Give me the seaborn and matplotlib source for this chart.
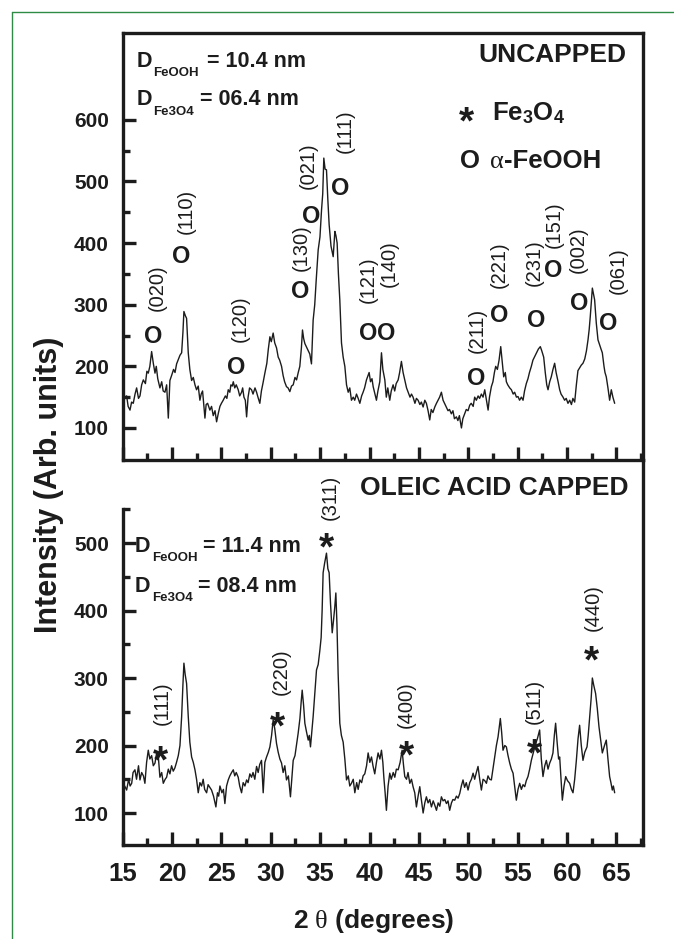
import matplotlib
matplotlib.use("Agg")
import matplotlib.pyplot as plt
from matplotlib.ticker import FixedLocator
from matplotlib.lines import Line2D
import pandas as pd
import seaborn as sns

# ---------------- data ----------------
# Uncapped sample (upper panel)
top_two_theta = [
    15.2, 15.4, 15.55, 15.74, 15.9, 16.07, 16.25, 16.41, 16.6, 16.75,
    16.92, 17.09, 17.3, 17.45, 17.59, 17.75, 17.93, 18.1, 18.27, 18.4,
    18.55, 18.77, 18.95, 19.1, 19.28, 19.45, 19.62, 19.78, 19.95, 20.15,
    20.3, 20.46, 20.65, 20.8, 20.97, 21.1, 21.2, 21.35, 21.47, 21.64,
    21.8, 21.98, 22.15, 22.32, 22.48, 22.65, 22.82, 22.95, 23.09, 23.2,
    23.33, 23.45, 23.6, 23.83, 24.0, 24.17, 24.35, 24.51, 24.7, 24.85,
    25.0, 25.18, 25.4, 25.55, 25.69, 25.85, 25.96, 26.1, 26.2, 26.35,
    26.5, 26.7, 26.85, 27.04, 27.15, 27.28, 27.42, 27.55, 27.7, 27.85,
    28.05, 28.2, 28.4, 28.56, 28.7, 28.89, 29.05, 29.2, 29.4, 29.6,
    29.75, 29.91, 30.05, 30.24, 30.4, 30.58, 30.75, 30.9, 31.09, 31.25,
    31.4, 31.59, 31.75, 31.93, 32.1, 32.27, 32.45, 32.61, 32.78, 32.94,
    33.1, 33.21, 33.33, 33.45, 33.6, 33.79, 33.95, 34.12, 34.29, 34.45,
    34.6, 34.8, 34.98, 35.14, 35.26, 35.37, 35.5, 35.64, 35.78, 35.91,
    36.1, 36.32, 36.49, 36.6, 36.72, 36.85, 36.99, 37.16, 37.33, 37.5,
    37.67, 37.84, 38.0, 38.17, 38.35, 38.5, 38.68, 38.85, 39.02, 39.2,
    39.35, 39.5, 39.69, 39.85, 39.96, 40.1, 40.25, 40.37, 40.55, 40.7,
    40.85, 41.04, 41.21, 41.35, 41.55, 41.7, 41.85, 42.05, 42.2, 42.39,
    42.55, 42.7, 42.9, 43.05, 43.23, 43.4, 43.57, 43.75, 43.91, 44.1,
    44.25, 44.41, 44.6, 44.75, 44.92, 45.1, 45.25, 45.43, 45.6, 45.76,
    45.93, 46.1, 46.25, 46.42, 46.61, 46.78, 46.94, 47.1, 47.28, 47.45,
    47.6, 47.79, 47.95, 48.1, 48.29, 48.45, 48.6, 48.8, 48.95, 49.1,
    49.31, 49.45, 49.64, 49.8, 49.98, 50.15, 50.3, 50.5, 50.65, 50.82,
    51.0, 51.15, 51.33, 51.5, 51.67, 51.85, 52.01, 52.15, 52.34, 52.5,
    52.65, 52.78, 52.95, 53.12, 53.29, 53.45, 53.59, 53.75, 53.86, 54.0,
    54.2, 54.37, 54.55, 54.7, 54.88, 55.04, 55.2, 55.38, 55.55, 55.7,
    55.88, 56.05, 56.2, 56.39, 56.55, 56.7, 56.9, 57.1, 57.3, 57.45,
    57.64, 57.8, 57.95, 58.08, 58.25, 58.41, 58.58, 58.75, 58.9, 59.1,
    59.26, 59.4, 59.6, 59.76, 59.92, 60.1, 60.28, 60.45, 60.6, 60.78,
    60.95, 61.11, 61.3, 61.45, 61.62, 61.8, 61.97, 62.13, 62.25, 62.36,
    62.47, 62.57, 62.68, 62.8, 62.97, 63.14, 63.3, 63.45, 63.58, 63.75,
    63.85, 63.98, 64.15, 64.32, 64.49, 64.65, 64.83,
]
top_intensity = [
    150, 152, 135, 129, 142, 140, 155, 165, 148, 152,
    170, 178, 172, 192, 189, 200, 224, 205, 189, 200,
    180, 165, 175, 160, 158, 170, 116, 177, 185, 195,
    190, 204, 212, 218, 222, 255, 289, 282, 278, 222,
    195, 177, 182, 170, 162, 168, 145, 155, 160, 140,
    116, 138, 140, 129, 135, 120, 128, 110, 125, 135,
    140, 145, 152, 148, 162, 158, 170, 168, 175, 165,
    170, 162, 152, 158, 165, 150, 145, 118, 150, 165,
    162, 155, 165, 158, 150, 140, 160, 172, 189, 205,
    228, 248, 240, 254, 238, 230, 215, 210, 200, 185,
    175, 167, 165, 159, 168, 170, 182, 178, 190, 200,
    230, 259, 245, 237, 232, 226, 220, 204, 275, 300,
    340, 389, 410, 454, 480, 538, 520, 519, 470, 430,
    395, 378, 419, 412, 400, 350, 308, 238, 215, 200,
    170, 158, 165, 145, 150, 145, 155, 148, 140, 152,
    158, 165, 178, 185, 190, 175, 180, 167, 155, 145,
    160, 175, 222, 195, 178, 150, 165, 145, 160, 170,
    160, 172, 178, 190, 208, 190, 178, 165, 158, 150,
    155, 150, 140, 148, 145, 138, 142, 134, 145, 140,
    128, 113, 130, 125, 134, 140, 145, 150, 158, 145,
    140, 134, 128, 130, 123, 128, 115, 118, 112, 120,
    100, 115, 123, 130, 128, 137, 140, 135, 150, 145,
    152, 148, 155, 150, 162, 145, 129, 150, 167, 175,
    190, 200, 195, 210, 232, 205, 183, 190, 175, 170,
    165, 162, 155, 158, 150, 151, 145, 150, 145, 160,
    172, 180, 190, 200, 210, 215, 222, 228, 232, 225,
    215, 190, 170, 162, 175, 183, 195, 205, 190, 175,
    162, 155, 150, 145, 148, 140, 145, 138, 148, 142,
    170, 193, 198, 202, 205, 212, 225, 243, 260, 281,
    305, 327, 318, 308, 270, 243, 235, 228, 222, 200,
    190, 183, 165, 145, 162, 150, 140,
]

# Oleic acid capped sample (lower panel)
bot_two_theta = [
    15.2, 15.4, 15.6, 15.75, 15.91, 16.05, 16.24, 16.4, 16.6, 16.75,
    16.92, 17.1, 17.25, 17.42, 17.59, 17.75, 17.93, 18.1, 18.27, 18.45,
    18.6, 18.77, 18.95, 19.11, 19.3, 19.45, 19.62, 19.78, 19.95, 20.12,
    20.29, 20.45, 20.63, 20.8, 20.97, 21.1, 21.2, 21.33, 21.47, 21.64,
    21.8, 21.98, 22.15, 22.32, 22.48, 22.65, 22.82, 22.99, 23.15, 23.3,
    23.5, 23.65, 23.82, 24.0, 24.2, 24.44, 24.6, 24.72, 24.85, 25.05,
    25.2, 25.35, 25.52, 25.69, 25.85, 26.03, 26.2, 26.35, 26.5, 26.7,
    26.85, 27.04, 27.2, 27.38, 27.55, 27.7, 27.88, 28.05, 28.2, 28.38,
    28.56, 28.72, 28.88, 29.06, 29.23, 29.4, 29.57, 29.75, 29.91, 30.08,
    30.24, 30.4, 30.58, 30.75, 30.92, 31.09, 31.25, 31.42, 31.59, 31.78,
    31.99, 32.12, 32.27, 32.45, 32.6, 32.77, 32.95, 33.08, 33.18, 33.32,
    33.45, 33.62, 33.79, 33.9, 34.02, 34.15, 34.29, 34.45, 34.63, 34.8,
    34.97, 35.1, 35.2, 35.3, 35.45, 35.64, 35.78, 35.91, 36.05, 36.22,
    36.35, 36.48, 36.59, 36.7, 36.82, 36.99, 37.15, 37.33, 37.5, 37.67,
    37.85, 38.0, 38.17, 38.35, 38.51, 38.7, 38.85, 39.02, 39.2, 39.35,
    39.52, 39.7, 39.86, 40.03, 40.2, 40.35, 40.53, 40.7, 40.87, 41.05,
    41.21, 41.35, 41.45, 41.58, 41.71, 41.88, 42.05, 42.2, 42.4, 42.56,
    42.72, 42.9, 43.1, 43.3, 43.45, 43.57, 43.75, 43.9, 44.08, 44.25,
    44.41, 44.58, 44.75, 44.92, 45.09, 45.25, 45.43, 45.6, 45.76, 45.93,
    46.1, 46.27, 46.45, 46.6, 46.78, 46.95, 47.12, 47.28, 47.45, 47.62,
    47.79, 47.95, 48.12, 48.3, 48.45, 48.63, 48.8, 48.97, 49.14, 49.3,
    49.47, 49.63, 49.8, 49.98, 50.15, 50.32, 50.49, 50.65, 50.82, 50.99,
    51.16, 51.33, 51.5, 51.67, 51.84, 52.0, 52.17, 52.34, 52.5, 52.68,
    52.85, 53.02, 53.15, 53.25, 53.38, 53.52, 53.7, 53.86, 54.03, 54.2,
    54.37, 54.54, 54.7, 54.87, 55.04, 55.21, 55.38, 55.55, 55.72, 55.88,
    56.05, 56.22, 56.39, 56.6, 56.83, 57.0, 57.23, 57.4, 57.57, 57.75,
    57.91, 58.08, 58.25, 58.42, 58.58, 58.72, 58.85, 59.0, 59.15, 59.26,
    59.4, 59.53, 59.7, 59.87, 60.05, 60.27, 60.45, 60.61, 60.78, 60.95,
    61.12, 61.28, 61.45, 61.62, 61.8, 62.03, 62.15, 62.3, 62.45, 62.57,
    62.7, 62.9, 63.07, 63.24, 63.4, 63.58, 63.8, 63.98, 64.15, 64.32,
    64.45, 64.59, 64.7, 64.83,
]
bot_intensity = [
    140, 134, 150, 140, 144, 160, 164, 150, 170, 149,
    160, 155, 144, 175, 193, 180, 185, 170, 174, 190,
    185, 153, 160, 144, 150, 153, 165, 158, 170, 162,
    167, 175, 185, 200, 243, 290, 322, 305, 292, 243,
    205, 183, 175, 164, 150, 130, 145, 140, 150, 135,
    130, 142, 138, 134, 125, 109, 130, 125, 140, 130,
    135, 114, 140, 149, 155, 160, 164, 155, 160, 153,
    140, 130, 145, 140, 149, 145, 158, 153, 160, 150,
    169, 160, 172, 178, 130, 175, 183, 190, 198, 215,
    238, 225, 203, 190, 180, 174, 160, 170, 149, 155,
    124, 150, 178, 185, 200, 218, 240, 265, 282, 260,
    233, 220, 208, 215, 198, 220, 243, 275, 312, 320,
    341, 360, 400, 456, 470, 485, 462, 456, 410, 367,
    385, 405, 426, 380, 307, 233, 215, 205, 180, 149,
    155, 140, 144, 150, 130, 145, 135, 149, 145, 155,
    158, 170, 189, 175, 183, 170, 158, 175, 189, 180,
    193, 175, 153, 130, 104, 140, 159, 150, 160, 153,
    165, 164, 175, 193, 170, 154, 150, 160, 144, 150,
    139, 130, 109, 125, 139, 120, 100, 115, 124, 115,
    120, 109, 118, 112, 104, 115, 110, 124, 118, 120,
    114, 118, 104, 115, 120, 119, 125, 122, 129, 140,
    149, 138, 145, 134, 145, 150, 159, 150, 160, 169,
    150, 134, 150, 148, 144, 155, 150, 149, 165, 183,
    200, 213, 228, 240, 220, 193, 200, 198, 185, 174,
    165, 159, 140, 119, 135, 144, 135, 142, 139, 148,
    154, 165, 178, 190, 203, 210, 223, 180, 154, 170,
    178, 165, 174, 180, 189, 215, 233, 205, 180, 183,
    150, 119, 140, 154, 148, 144, 135, 130, 150, 178,
    210, 230, 200, 178, 190, 198, 215, 243, 270, 300,
    290, 277, 255, 228, 210, 189, 200, 208, 180, 154,
    145, 134, 140, 130,
]

# Peak annotations, alpha-FeOOH (upper panel)
top_hkl = ["(020)", "(110)", "(120)", "(130)", "(021)", "(111)", "(121)",
           "(140)", "(211)", "(221)", "(231)", "(151)", "(002)", "(061)"]
top_mark_x = [18.10, 20.97, 26.54, 32.95, 34.13, 37.0, 39.86,
              41.72, 50.83, 53.12, 56.9, 58.58, 61.28, 64.15]
top_mark_y = [251, 381, 202, 324, 446, 492, 256,
              256, 183, 286, 278, 359, 305, 273]
top_label_x = [18.5, 21.41, 26.87, 33.05, 33.79, 37.5, 39.86,
               41.98, 50.93, 53.09, 56.66, 58.75, 61.18, 65.16]
top_label_y = [327, 452, 277, 393, 526, 581, 340,
               367, 258, 365, 369, 430, 389, 356]

# Peak annotations, Fe3O4 (lower panel)
bot_hkl = ["(111)", "(220)", "(311)", "(400)", "(511)", "(440)"]
bot_mark_x = [18.78, 30.65, 35.65, 43.74, 56.73, 62.47]
bot_mark_y = [193, 243, 509, 201, 203, 341]
bot_label_x = [19.0, 31.09, 35.98, 43.74, 56.73, 62.63]
bot_label_y = [262, 309, 568, 261, 265, 405]

x_ticks = [15, 20, 25, 30, 35, 40, 45, 50, 55, 60, 65]
top_y_ticks = [100, 200, 300, 400, 500, 600]
bot_y_ticks = [100, 200, 300, 400, 500]

# ---------------- style ----------------
sns.set_style("ticks")
plt.rcParams["font.family"] = ["Liberation Sans", "DejaVu Sans"]
plt.rcParams["font.weight"] = "bold"
plt.rcParams["mathtext.fontset"] = "custom"
plt.rcParams["mathtext.rm"] = "Liberation Sans:bold"
plt.rcParams["mathtext.bf"] = "Liberation Sans:bold"
plt.rcParams["mathtext.it"] = "Liberation Serif:weight=normal"
plt.rcParams["axes.linewidth"] = 2.4
INK = "#1c1c1c"
SERIF = ["Liberation Serif", "DejaVu Serif"]

W, H = 674, 939
fig = plt.figure(figsize=(W / 100, H / 100), dpi=100)
L, R = 122.7, 643.0
ax1 = fig.add_axes([L / W, 1 - 460 / H, (R - L) / W, (460 - 33) / H])
ax2 = fig.add_axes([L / W, 1 - 845 / H, (R - L) / W, (845 - 460) / H])

df_top = pd.DataFrame({"two_theta": top_two_theta, "intensity": top_intensity})
df_bot = pd.DataFrame({"two_theta": bot_two_theta, "intensity": bot_intensity})
sns.lineplot(data=df_top, x="two_theta", y="intensity", ax=ax1, color=INK,
             lw=1.0, estimator=None, sort=False)
sns.lineplot(data=df_bot, x="two_theta", y="intensity", ax=ax2, color=INK,
             lw=1.0, estimator=None, sort=False)

for ax in (ax1, ax2):
    ax.set_xlim(15, 67.7)
    ax.set_xlabel("")
    ax.set_ylabel("")
    ax.xaxis.set_major_locator(FixedLocator(x_ticks))
    ax.xaxis.set_minor_locator(FixedLocator([t + 2.5 for t in x_ticks]))
    ax.xaxis.set_ticks_position("bottom")
    ax.yaxis.set_ticks_position("left")
    ax.tick_params(which="major", direction="in", length=9.5, width=2.4, colors=INK)
    ax.tick_params(which="minor", direction="in", length=5, width=2.4, colors=INK)
    for s in ax.spines.values():
        s.set_color(INK)
        s.set_linewidth(2.4)

ax1.set_ylim(48, 741)
ax1.yaxis.set_major_locator(FixedLocator(top_y_ticks))
ax1.yaxis.set_minor_locator(FixedLocator([150, 250, 350, 450, 550]))
ax1.tick_params(axis="x", which="both", labelbottom=False)
ax1.tick_params(axis="y", which="major", labelsize=15, pad=10)

ax2.set_ylim(52.6, 623)
ax2.yaxis.set_major_locator(FixedLocator(bot_y_ticks))
ax2.yaxis.set_minor_locator(FixedLocator([150, 250, 350, 450, 550]))
ax2.spines["top"].set_visible(False)
ax2.spines["left"].set_bounds(52.6, 550)
ax2.tick_params(axis="y", which="major", labelsize=15, pad=10)
ax2.tick_params(axis="x", which="major", labelsize=18.5, pad=12)
ax2.patch.set_alpha(0)

# ---------------- annotations ----------------
def peak_marks(ax, marks_x, marks_y, labels_x, labels_y, hkl, symbol, fs, drop):
    for mx, my, lx, ly, lab in zip(marks_x, marks_y, labels_x, labels_y, hkl):
        ax.annotate(symbol, (mx, my), xytext=(0, drop), textcoords="offset points",
                    ha="center", va="baseline", fontsize=fs, fontweight="bold",
                    color=INK)
        ax.text(lx, ly, lab, rotation=90, ha="center", va="center",
                fontsize=14.5, fontweight="normal", color=INK)

peak_marks(ax1, top_mark_x, top_mark_y, top_label_x, top_label_y, top_hkl,
           "O", 17, -6.1)
peak_marks(ax2, bot_mark_x, bot_mark_y, bot_label_x, bot_label_y, bot_hkl,
           "*", 28, -16.0)


def size_label(ax, xf, yf, sub, value, eq_off):
    kw = dict(xycoords="axes fraction", textcoords="offset points",
              ha="left", va="baseline", fontweight="bold", color=INK)
    ax.annotate("D", (xf, yf), xytext=(0, 0), fontsize=15.5, **kw)
    ax.annotate(sub, (xf, yf), xytext=(12, -7), fontsize=9.5, **kw)
    ax.annotate("= " + value, (xf, yf), xytext=(eq_off, 0), fontsize=15.5, **kw)


size_label(ax1, 0.0269, 0.921, "FeOOH", "10.4 nm", 50.4)
size_label(ax1, 0.0269, 0.831, "Fe3O4", "06.4 nm", 45.6)
size_label(ax2, 0.0236, 0.762, "FeOOH", "11.4 nm", 49.0)
size_label(ax2, 0.0236, 0.658, "Fe3O4", "08.4 nm", 45.4)

ax1.text(0.969, 0.933, "UNCAPPED", transform=ax1.transAxes, ha="right",
         va="baseline", fontsize=19, fontweight="bold", color=INK)
ax2.text(0.972, 0.909, "OLEIC ACID CAPPED", transform=ax2.transAxes, ha="right",
         va="baseline", fontsize=19, fontweight="bold", color=INK)

# phase key
ax1.annotate("*", (0.661, 0.817), xycoords="axes fraction", xytext=(0, -16.0),
             textcoords="offset points", ha="center", va="baseline",
             fontsize=28, fontweight="bold", color=INK)
ax1.text(0.709, 0.796, r"Fe$_{\mathrm{3}}$O$_{\mathrm{4}}$", transform=ax1.transAxes,
         ha="left", va="baseline", fontsize=18.5, fontweight="bold", color=INK)
ax1.text(0.648, 0.683, "O", transform=ax1.transAxes, ha="left", va="baseline",
         fontsize=18.5, fontweight="bold", color=INK)
ax1.text(0.706, 0.683, "\u03b1", transform=ax1.transAxes, ha="left",
         va="baseline", fontsize=19, fontweight="normal", family=SERIF, color=INK)
ax1.annotate("-FeOOH", (0.706, 0.683), xycoords="axes fraction", xytext=(10, 0),
             textcoords="offset points", ha="left", va="baseline",
             fontsize=18.5, fontweight="bold", color=INK)

# axis titles
fig.text(49 / W, 1 - 485 / H, "Intensity (Arb. units)", rotation=90, ha="center",
         va="center", fontsize=22, fontweight="bold", color=INK)
fig.text(374 / W, 1 - 921 / H, r"2 $\theta$ (degrees)", ha="center", va="center",
         fontsize=19, fontweight="bold", color=INK)

# green page frame
green = "#2e8b45"
fig.add_artist(Line2D([12 / W, 12 / W], [0, 1 - 11.7 / H], transform=fig.transFigure,
                      color=green, lw=1.0))
fig.add_artist(Line2D([12 / W, 1], [1 - 11.7 / H, 1 - 11.7 / H], transform=fig.transFigure,
                      color=green, lw=1.0))

fig.savefig("out.png", dpi=100, facecolor="white")
